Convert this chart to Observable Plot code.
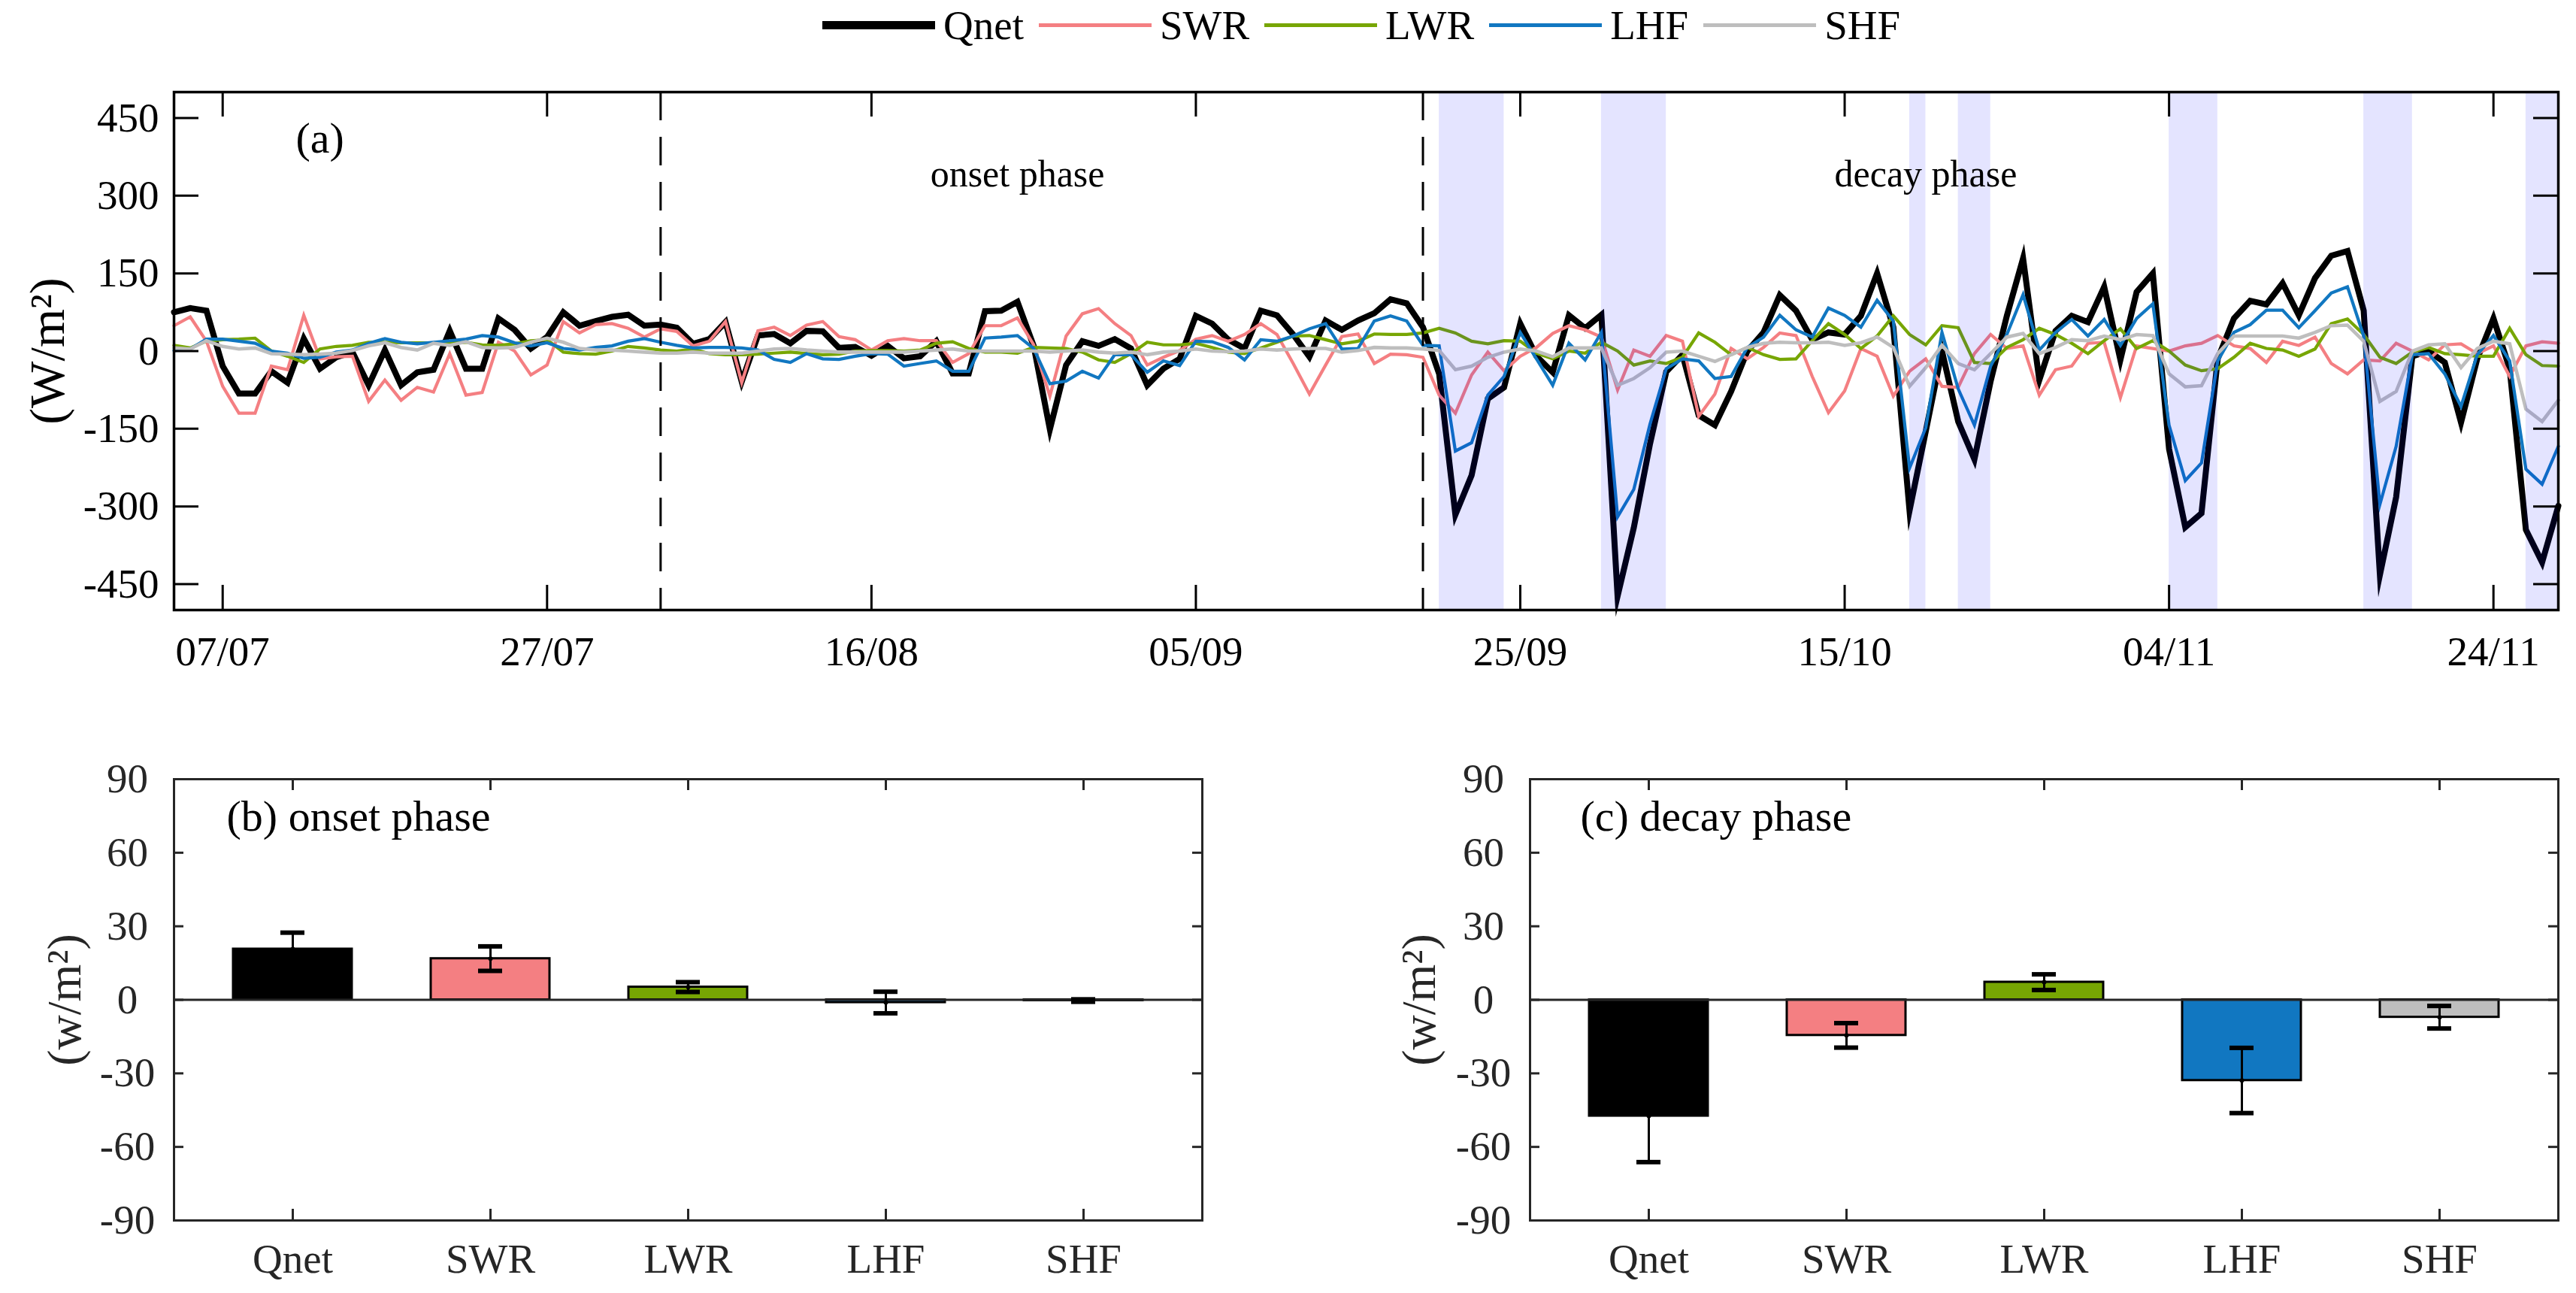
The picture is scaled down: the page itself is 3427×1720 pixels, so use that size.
<!DOCTYPE html>
<html>
<head>
<meta charset="utf-8">
<script src="https://cdn.jsdelivr.net/npm/d3@7"></script>
<script src="https://cdn.jsdelivr.net/npm/@observablehq/plot@0.6"></script>
<style>
  body { margin: 0; background: #fff; }
  #root { position: relative; width: 3427px; height: 1720px; overflow: hidden; background: #fff; font-family: "Liberation Serif", serif; }
  .panel { position: absolute; }
  #legend { position: absolute; top: 0; left: 1094px; height: 66px; display: flex; align-items: center; font-size: 55px; color: #000; font-family: "Liberation Serif", serif; }
  #legend .ln { display: inline-block; width: 150px; height: 0; margin-right: 11px; }
  #legend .tx { margin-right: 20px; }
</style>
</head>
<body>
<div id="root"></div>
<script>
// ---------------- data ----------------
const startDay = "04/07";
const year = 2019;
const seriesNames = ["Qnet", "SWR", "LWR", "LHF", "SHF"];
const seriesColors = ["#000000", "#f47f82", "#77a603", "#1177c1", "#bebebe"];

const Qnet = [75,83,78,-29,-82,-82,-39,-61,24,-34,-12,-2,-66,2,-66,-41,-36,39,-34,-34,63,41,5,27,75,49,58,66,70,49,
  51,45,14,23,56,-59,30,33,15,39,38,6,8,-9,10,-14,-10,19,-43,-43,77,78,95,10,-151,-27,19,10,23,
  5,-66,-34,-15,68,53,22,5,78,69,32,-11,59,41,59,73,100,92,46,-44,-316,-240,-92,-70,53,-10,-41,69,44,70,
  -473,-341,-179,-40,-7,-124,-143,-78,0,36,108,78,22,36,32,68,150,46,-308,-155,0,-136,-209,-58,68,179,-56,39,68,56,
  124,-17,114,150,-189,-340,-313,-15,63,97,90,131,69,141,184,193,78,-432,-282,-10,0,-22,-138,-15,63,-34,-345,-408,-299];
const SWR = [49,66,19,-68,-120,-120,-29,-36,69,-15,-11,-10,-97,-56,-95,-70,-79,-5,-85,-80,17,0,-46,-27,57,35,51,53,44,27,
  43,38,10,19,57,-61,39,46,30,50,57,28,22,2,20,24,20,20,-22,-5,49,49,64,12,-87,29,72,82,53,
  30,-27,-12,1,23,30,19,32,53,32,-24,-83,-27,28,33,-24,-6,-7,-12,-85,-120,-46,-2,-38,-10,7,34,49,41,27,
  -75,2,-10,30,19,-126,-83,5,-15,7,35,30,-49,-119,-77,5,-10,-87,-39,-15,-68,-70,-5,32,5,10,-85,-36,-29,15,
  17,-90,10,5,0,10,15,30,10,5,-22,19,11,27,-24,-44,-17,-19,15,0,-17,12,14,-5,10,-49,10,18,15];
const LWR = [11,6,19,22,23,25,0,-10,-22,4,9,11,17,17,16,16,16,15,17,12,11,14,20,22,-2,-5,-6,0,9,6,
  2,0,4,-5,-7,-7,-6,-4,-2,-5,-7,-6,0,1,1,0,2,15,18,5,-2,-2,-4,7,6,5,-2,-17,-22,
  -5,17,12,12,15,7,-2,-5,6,17,29,30,22,14,19,33,32,32,35,44,35,19,14,20,19,-4,-15,0,-4,17,
  0,-27,-19,-24,-12,35,17,-7,7,-7,-16,-15,20,53,32,5,29,68,32,12,49,45,-22,-24,7,22,44,32,15,-5,
  20,43,5,20,0,-27,-38,-34,-12,15,5,2,-10,4,53,62,32,-12,-24,-2,7,-5,-7,-10,-10,44,-7,-28,-29];
const LHF = [1,4,23,23,19,15,0,-4,-14,-12,-2,2,15,24,17,14,17,20,23,30,27,16,10,16,5,2,7,10,19,24,
  17,11,6,7,7,6,2,-16,-22,-5,-15,-16,-10,-5,-6,-29,-24,-19,-39,-39,25,27,30,5,-63,-58,-39,-52,-7,
  -7,-41,-19,-28,19,18,7,-17,22,19,29,43,53,4,5,58,68,58,11,10,-193,-177,-85,-49,36,-15,-66,15,-17,36,
  -320,-267,-141,-34,-15,-19,-53,-49,7,27,69,41,27,83,69,46,98,58,-226,-148,36,-73,-143,-29,32,109,2,36,61,29,
  61,11,63,91,-143,-250,-216,-19,36,51,79,79,45,78,112,124,29,-296,-184,-7,-5,-44,-107,-7,30,-19,-228,-257,-184];
const SHF = [6,4,20,9,4,6,-5,-6,-7,-6,-4,1,10,16,7,2,15,11,18,7,6,7,17,25,17,5,2,2,0,-2,
  -4,-4,-2,-4,-4,-4,0,4,5,2,0,-2,-2,-2,-2,-2,0,2,4,0,0,0,0,0,-2,0,2,-2,-4,
  -2,-7,-2,0,4,0,-1,0,4,2,4,5,5,-2,1,7,6,6,4,1,-36,-29,-12,-2,4,0,-11,6,6,6,
  -66,-53,-32,-2,0,-10,-20,-7,7,15,17,16,16,17,11,16,27,7,-68,-32,11,-24,-36,-5,27,34,-5,7,22,20,
  29,22,32,30,-44,-69,-67,-5,29,29,29,29,25,36,49,50,19,-97,-78,0,12,14,-32,5,19,14,-112,-136,-95];

const tickLabels = ["07/07", "27/07", "16/08", "05/09", "25/09", "15/10", "04/11", "24/11"];
const yTicksTop = [-450, -300, -150, 0, 150, 300, 450];
const phaseBoundaries = ["03/08", "19/09"];
const shadeStart = ["20/09", "30/09", "19/10", "22/10", "04/11", "16/11", "26/11"];
const shadeEnd   = ["24/09", "04/10", "20/10", "24/10", "07/11", "19/11", "28/11"];
const phaseLabels = ["onset phase", "decay phase"];
const phaseLabelDates = ["25/08", "20/10"];

const barCategories = ["Qnet", "SWR", "LWR", "LHF", "SHF"];
const onsetMean = [20.7, 16.8, 5.2, -1.1, -0.3];
const onsetErr  = [6.7, 5.0, 2.0, 4.4, 0.5];
const decayMean = [-47.4, -14.5, 7.2, -32.9, -7.1];
const decayErr  = [18.8, 5.0, 3.2, 13.3, 4.6];
const yTicksBar = [-90, -60, -30, 0, 30, 60, 90];

// ---------------- helpers ----------------
const parseDay = s => d3.utcParse("%d/%m/%Y")(s + "/" + year);
const startDate = parseDay(startDay);
const seriesValues = [Qnet, SWR, LWR, LHF, SHF];
const dates = Qnet.map((_, i) => d3.utcDay.offset(startDate, i));
const seriesRows = seriesValues.map((vals, k) => vals.map((v, i) => ({series: seriesNames[k], date: dates[i], value: v})));
const tickDates = tickLabels.map(parseDay);
const fmt = d => String(d);

const root = document.getElementById("root");
const font = '"Liberation Serif", "Times New Roman", serif';

// ---------------- top panel ----------------
const TW = 3427, TH = 900, TML = 231, TMR = 24, TMT = 122, TMB = 89;
const tfw = TW - TML - TMR, tfh = TH - TMT - TMB;
const yDomTop = [-500, 500];
const widths = [8, 4.2, 4.2, 4.2, 4.6];

const shadeRows = shadeStart.map((s, i) => ({x1: parseDay(s), x2: parseDay(shadeEnd[i]), y1: yDomTop[0], y2: yDomTop[1]}));

const topChart = Plot.plot({
  width: TW, height: TH,
  marginLeft: TML, marginRight: TMR, marginTop: TMT, marginBottom: TMB,
  x: {type: "utc", domain: [dates[0], dates[dates.length - 1]]},
  y: {domain: yDomTop},
  style: {fontFamily: font, fontSize: "55px", color: "#000", background: "transparent", overflow: "visible"},
  marks: [
    ...seriesRows.map((rows, k) => Plot.line(rows, {x: "date", y: "value", stroke: seriesColors[k], strokeWidth: widths[k], strokeLinejoin: "miter", strokeMiterlimit: 10})),
    Plot.rect(shadeRows, {x1: "x1", x2: "x2", y1: "y1", y2: "y2", fill: "#0000ff", fillOpacity: 0.105}),
    Plot.ruleX(phaseBoundaries.map(parseDay), {stroke: "#000", strokeWidth: 3, strokeDasharray: "38,22"}),
    Plot.frame({stroke: "#000", strokeWidth: 3.5}),
    Plot.ruleX(tickDates, {insetTop: tfh - 33, strokeWidth: 3}),
    Plot.ruleX(tickDates, {insetBottom: tfh - 33, strokeWidth: 3}),
    Plot.ruleY(yTicksTop, {insetRight: tfw - 33, strokeWidth: 3}),
    Plot.ruleY(yTicksTop, {insetLeft: tfw - 33, strokeWidth: 3}),
    Plot.axisX(tickDates, {tickSize: 0, tickPadding: 34, tickFormat: d3.utcFormat("%d/%m"), fontSize: 55, label: null}),
    Plot.axisY(yTicksTop, {tickSize: 0, tickPadding: 20, tickFormat: fmt, fontSize: 55, label: null}),
    Plot.text(["(W/m²)"], {frameAnchor: "left", textAnchor: "middle", dx: -168, rotate: -90, fontSize: 66, text: d => d}),
    Plot.text(["(a)"], {x: [parseDay("13/07")], y: [410], text: d => d, fontSize: 58}),
    Plot.text(phaseLabels, {x: phaseLabelDates.map(parseDay), y: [341, 341], text: d => d, fontSize: 50})
  ]
});
const topWrap = document.createElement("div");
topWrap.className = "panel";
topWrap.style.left = "0px"; topWrap.style.top = "0px";
topWrap.appendChild(topChart);
root.appendChild(topWrap);

// ---------------- legend ----------------
const legend = document.createElement("div");
legend.id = "legend";
seriesNames.forEach((n, k) => {
  const ln = document.createElement("span");
  ln.className = "ln";
  ln.style.borderTop = (k === 0 ? 11 : 5) + "px solid " + seriesColors[k];
  const tx = document.createElement("span");
  tx.className = "tx";
  tx.textContent = n;
  legend.appendChild(ln); legend.appendChild(tx);
});
root.appendChild(legend);

// ---------------- bar panels ----------------
function barPanel(means, errs, title, W, ML, MR, left, titleDx, labelDx) {
  const H = 740, MT = 56, MB = 97;
  const fw = W - ML - MR, fh = H - MT - MB;
  const rows = barCategories.map((c, i) => ({cat: c, value: means[i], lo: means[i] - errs[i], hi: means[i] + errs[i]}));
  const p = Plot.plot({
    width: W, height: H,
    marginLeft: ML, marginRight: MR, marginTop: MT, marginBottom: MB,
    x: {domain: barCategories, paddingInner: 0.4, paddingOuter: 0.3},
    y: {domain: [-90, 90]},
    color: {domain: barCategories, range: seriesColors},
    style: {fontFamily: font, fontSize: "55px", color: "#262626", background: "transparent", overflow: "visible"},
    marks: [
      Plot.barY(rows, {x: "cat", y: "value", fill: "cat", stroke: "#000", strokeWidth: 3}),
      Plot.ruleY([0], {stroke: "#262626", strokeWidth: 3}),
      Plot.ruleX(rows, {x: "cat", y1: "lo", y2: "hi", stroke: "#000", strokeWidth: 3}),
      Plot.tickY(rows, {x: "cat", y: "lo", stroke: "#000", strokeWidth: 6, insetLeft: 63, insetRight: 63}),
      Plot.tickY(rows, {x: "cat", y: "hi", stroke: "#000", strokeWidth: 6, insetLeft: 63, insetRight: 63}),
      Plot.dot(rows, {x: "cat", y: "value", r: 3, fill: "#000"}),
      Plot.frame({stroke: "#262626", strokeWidth: 3}),
      Plot.ruleX(barCategories, {stroke: "#262626", insetTop: fh - 15, strokeWidth: 3}),
      Plot.ruleX(barCategories, {stroke: "#262626", insetBottom: fh - 15, strokeWidth: 3}),
      Plot.ruleY(yTicksBar, {stroke: "#262626", insetRight: fw - 13, strokeWidth: 3}),
      Plot.ruleY(yTicksBar, {stroke: "#262626", insetLeft: fw - 13, strokeWidth: 3}),
      Plot.axisX(barCategories, {tickSize: 0, tickPadding: 30, fontSize: 55, label: null}),
      Plot.axisY(yTicksBar, {tickSize: 0, tickPadding: 62, textAnchor: "middle", tickFormat: fmt, fontSize: 55, label: null}),
      Plot.text(["(w/m²)"], {frameAnchor: "left", textAnchor: "middle", dx: labelDx, rotate: -90, fontSize: 64, fill: "#262626", text: d => d}),
      Plot.text([title], {frameAnchor: "top-left", dx: titleDx, dy: 50, textAnchor: "start", lineAnchor: "middle", fontSize: 58, fill: "#000", text: d => d})
    ]
  });
  const wrap = document.createElement("div");
  wrap.className = "panel";
  wrap.style.left = left + "px"; wrap.style.top = "980px";
  wrap.appendChild(p);
  root.appendChild(wrap);
}
barPanel(onsetMean, onsetErr, "(b) onset phase", 1710, 231, 111, 0, 70, -145);
barPanel(decayMean, decayErr, "(c) decay phase", 1717, 325, 24, 1710, 67, -147);
</script>
</body>
</html>
